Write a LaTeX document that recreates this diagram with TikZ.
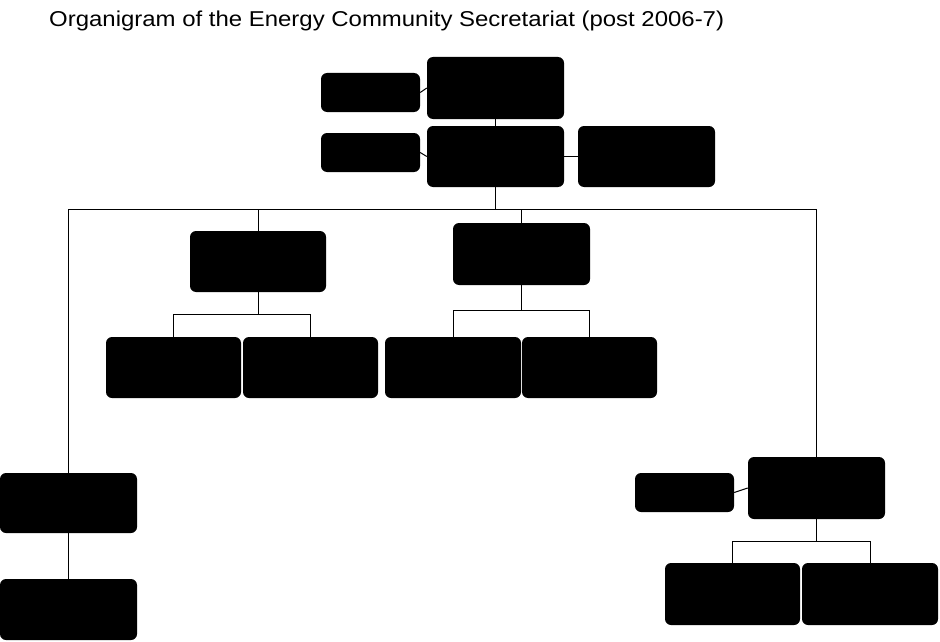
\documentclass[tikz,border=0pt]{standalone}
\usepackage{fontspec}
\setmainfont{Liberation Sans}
\begin{document}
\begin{tikzpicture}[x=1pt,y=-1pt,
  box/.style={fill=black,draw=none,rounded corners=6pt,inner sep=0pt},
  big/.style={box,minimum width=137pt,minimum height=61pt},
  small/.style={box,minimum width=99pt,minimum height=39pt},
  conn/.style={draw=black,line width=1pt}]
\useasboundingbox (0,0) rectangle (940,642);
\node[anchor=base west,inner sep=0pt,font=\fontsize{21.5}{24}\selectfont] (title) at (49,27) {\scalebox{1.114}[1]{Organigram of the Energy Community Secretariat (post 2006-7)}};
% top
\node[big,minimum height=62pt] (t1) at (495.5,88) {};
\node[small] (l1) at (370.5,92.5) {};
\node[big] (t2) at (495.5,156.5) {};
\node[small] (l2) at (370.5,152.5) {};
\node[big] (r2) at (646.5,156.5) {};
% second level
\node[big,minimum width=136pt] (b1) at (258,261.5) {};
\node[big,minimum height=62pt] (b2) at (521.5,254) {};
% third level
\node[big,minimum width=135pt] (c1) at (173.5,367.5) {};
\node[big,minimum width=135pt] (c2) at (310.5,367.5) {};
\node[big,minimum width=136pt] (c3) at (453,367.5) {};
\node[big,minimum width=135pt] (c4) at (589.5,367.5) {};
% left column
\node[big,minimum height=60pt] (lb1) at (68.5,503) {};
\node[big] (lb2) at (68.5,609.5) {};
% right column
\node[big,minimum height=62pt] (rb) at (816.5,488) {};
\node[small] (rs) at (684.5,492.5) {};
\node[big,minimum width=135pt,minimum height=62pt] (rc1) at (732.5,594) {};
\node[big,minimum width=136pt,minimum height=62pt] (rc2) at (870,594) {};
% coordinates for buses
\coordinate (bus) at (0,209);
\coordinate (bb1) at (0,314);
\coordinate (bb2) at (0,310);
\coordinate (bb3) at (0,541);
% connectors
\draw[conn] (t1.south) -- (t2.north);
\draw[conn] (l1.east) -- (t1.west);
\draw[conn] (l2.east) -- (t2.west);
\draw[conn] (t2.east) -- (r2.west);
\draw[conn] (t2.south) -- (t2.south |- bus);
\draw[conn] (lb1.north) |- (rb.north |- bus) -- (rb.north);
\draw[conn] (b1.north) -- (b1.north |- bus);
\draw[conn] (b2.north) -- (b2.north |- bus);
\draw[conn] (b1.south) -- (b1.south |- bb1);
\draw[conn] (c1.north) |- (c2.north |- bb1) -- (c2.north);
\draw[conn] (b2.south) -- (b2.south |- bb2);
\draw[conn] (c3.north) |- (c4.north |- bb2) -- (c4.north);
\draw[conn] (lb1.south) -- (lb2.north);
\draw[conn] (rs.east) -- (rb.west);
\draw[conn] (rb.south) -- (rb.south |- bb3);
\draw[conn] (rc1.north) |- (rc2.north |- bb3) -- (rc2.north);
\end{tikzpicture}
\end{document}
